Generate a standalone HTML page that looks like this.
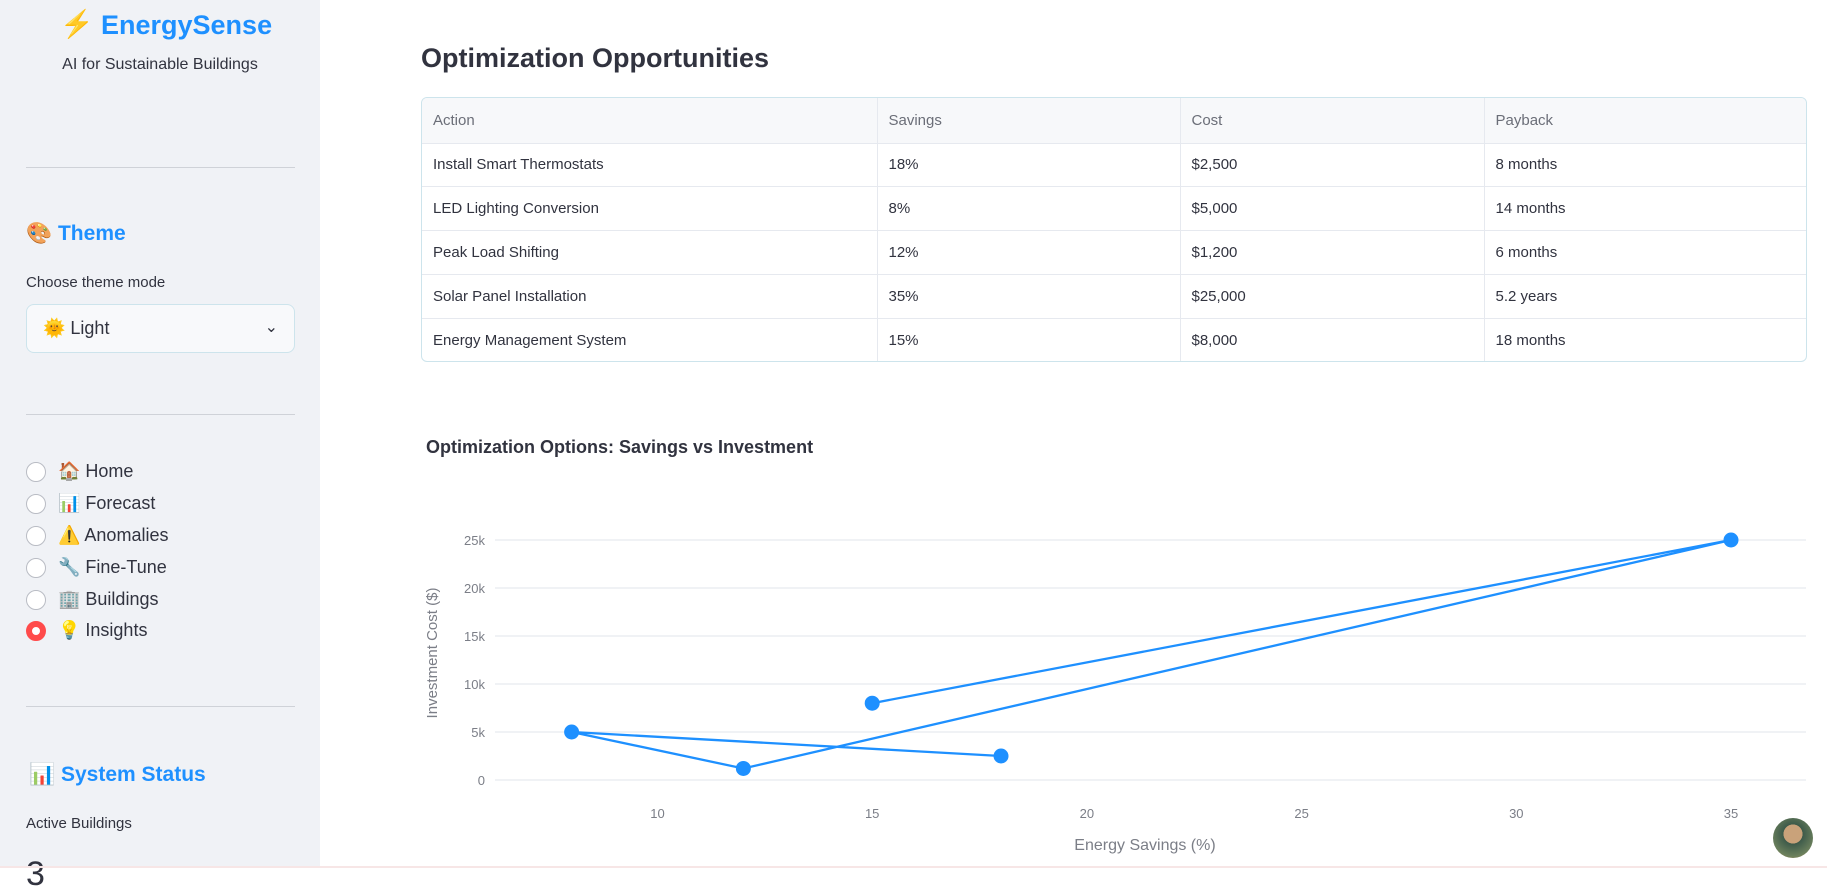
<!DOCTYPE html>
<html><head><meta charset="utf-8"><style>
*{box-sizing:border-box;margin:0;padding:0}
body{width:1827px;height:868px;overflow:hidden;background:#fff;font-family:"Liberation Sans",sans-serif;color:#31333f;position:relative}
.sb{position:absolute;left:0;top:0;width:320px;height:868px;background:#f0f2f6}
.abs{position:absolute;white-space:nowrap}
.hr{position:absolute;left:26px;width:269px;height:1px;background:#cfd2d8}
.radio{position:absolute;left:26px;width:20px;height:20px;border-radius:50%;border:1.5px solid #b9bcc4;background:#fff}
.ri{position:absolute;left:58px;font-size:18px}
table{border-collapse:collapse;width:100%;font-size:15px}
td,th{border-bottom:1px solid #e6e9ef;border-right:1px solid #e6e9ef;text-align:left;padding-left:11px;font-weight:normal;height:43.8px}
th{height:45px;color:#6b6e78;background:#f7f8fa}
tr:last-child td{border-bottom:none}
td:last-child,th:last-child{border-right:none}
</style></head><body>
<div class="sb">
<div class="abs" style="left:60px;top:8px;font-size:27px;color:#f57c1f">⚡</div>
<div class="abs" style="left:101px;top:10px;font-size:27px;font-weight:bold;color:#1e90ff">EnergySense</div>
<div class="abs" style="left:0;width:320px;text-align:center;top:56px;font-size:16px">AI for Sustainable Buildings</div>
<div class="hr" style="top:167px"></div>
<div class="abs" style="left:26px;top:222px;font-size:21px;font-weight:bold;color:#1e90ff">🎨 Theme</div>
<div class="abs" style="left:26px;top:274px;font-size:15px">Choose theme mode</div>
<div class="abs" style="left:26px;top:304px;width:269px;height:49px;border:1px solid #cde4ec;border-radius:8px;background:#f8f9fb;font-size:18px;padding:13px 0 0 16px">🌞 Light<span style="position:absolute;right:16px;top:12px;font-size:16px">⌄</span></div>
<div class="hr" style="top:414px"></div>
<div class="radio" style="top:462px"></div><div class="ri" style="top:461px">🏠 Home</div>
<div class="radio" style="top:494px"></div><div class="ri" style="top:493px">📊 Forecast</div>
<div class="radio" style="top:526px"></div><div class="ri" style="top:525px">⚠️ Anomalies</div>
<div class="radio" style="top:558px"></div><div class="ri" style="top:557px">🔧 Fine-Tune</div>
<div class="radio" style="top:590px"></div><div class="ri" style="top:589px">🏢 Buildings</div>
<div class="radio" style="top:621px;border:6px solid #ff4b4b"></div><div class="ri" style="top:620px">💡 Insights</div>
<div class="hr" style="top:706px"></div>
<div class="abs" style="left:29px;top:763px;font-size:21px;font-weight:bold;color:#1e90ff">📊 System Status</div>
<div class="abs" style="left:26px;top:815px;font-size:15px">Active Buildings</div>
<div class="abs" style="left:26px;top:855px;font-size:34px">3</div>
</div>
<div class="abs" style="left:421px;top:43px;font-size:27px;font-weight:bold">Optimization Opportunities</div>
<div class="abs" style="left:421px;top:97px;width:1386px;height:265px;border:1.5px solid #cde4ec;border-radius:6px;overflow:hidden">
<table>
<colgroup><col style="width:455px"><col style="width:303px"><col style="width:304px"><col></colgroup>
<tr><th>Action</th><th>Savings</th><th>Cost</th><th>Payback</th></tr>
<tr><td>Install Smart Thermostats</td><td>18%</td><td>$2,500</td><td>8 months</td></tr>
<tr><td>LED Lighting Conversion</td><td>8%</td><td>$5,000</td><td>14 months</td></tr>
<tr><td>Peak Load Shifting</td><td>12%</td><td>$1,200</td><td>6 months</td></tr>
<tr><td>Solar Panel Installation</td><td>35%</td><td>$25,000</td><td>5.2 years</td></tr>
<tr><td>Energy Management System</td><td>15%</td><td>$8,000</td><td>18 months</td></tr>
</table></div>
<div class="abs" style="left:426px;top:437px;font-size:18px;font-weight:bold">Optimization Options: Savings vs Investment</div>
<svg id="chart" style="position:absolute;left:0;top:0" width="1827" height="868"></svg>
<div class="abs" style="left:1773px;top:818px;width:40px;height:40px;border-radius:50%;background:radial-gradient(circle at 50% 40%,#c9a27a 0 30%,#3d5a4a 31%,#6a7f5c 70%,#a98b4e 100%)"></div>
<div class="abs" style="left:0;top:866px;width:1827px;height:2px;background:#f7e6e6"></div>
<script>
const savings=[18,8,12,35,15];
const costs=[2500,5000,1200,25000,8000];
const xTicks=[10,15,20,25,30,35];
const yTicks=[0,5000,10000,15000,20000,25000];
const yTickLabels=["0","5k","10k","15k","20k","25k"];
const NS="http://www.w3.org/2000/svg";
const svg=document.getElementById('chart');
const X=v=>657.5+(v-10)*42.94;
const Y=v=>780-v*240/25000;
function mk(t,a){const e=document.createElementNS(NS,t);for(const k in a)e.setAttribute(k,a[k]);svg.appendChild(e);return e;}
yTicks.forEach((t,i)=>{
 const g=mk('line',{x1:495,x2:1806,y1:Y(t),y2:Y(t),stroke:'#e6e9ef','stroke-width':1.3});
 
 
 const l=mk('text',{x:485,y:Y(t)+5,'text-anchor':'end','font-size':13,fill:'#7b7e87','font-family':'Liberation Sans, sans-serif'});
 l.textContent=yTickLabels[i];
 
 
});
xTicks.forEach(t=>{
 const l=mk('text',{x:X(t),y:818,'text-anchor':'middle','font-size':13,fill:'#7b7e87','font-family':'Liberation Sans, sans-serif'});
 l.textContent=t;
 
 
});
const xt=mk('text',{x:1145,y:850,'text-anchor':'middle','font-size':16,fill:'#7b7e87','font-family':'Liberation Sans, sans-serif'});
xt.textContent='Energy Savings (%)';


const yt=mk('text',{x:0,y:0,'text-anchor':'middle','font-size':15,fill:'#7b7e87','font-family':'Liberation Sans, sans-serif',transform:'translate(437,653) rotate(-90)'});
yt.textContent='Investment Cost ($)';


const pl=mk('polyline',{points:savings.map((s,i)=>X(s)+','+Y(costs[i])).join(' '),fill:'none',stroke:'#1e90ff','stroke-width':2.3});


savings.forEach((s,i)=>{
 const c=mk('circle',{cx:X(s),cy:Y(costs[i]),r:7.5,fill:'#1e90ff'});
 
 
});
</script>
</body></html>
